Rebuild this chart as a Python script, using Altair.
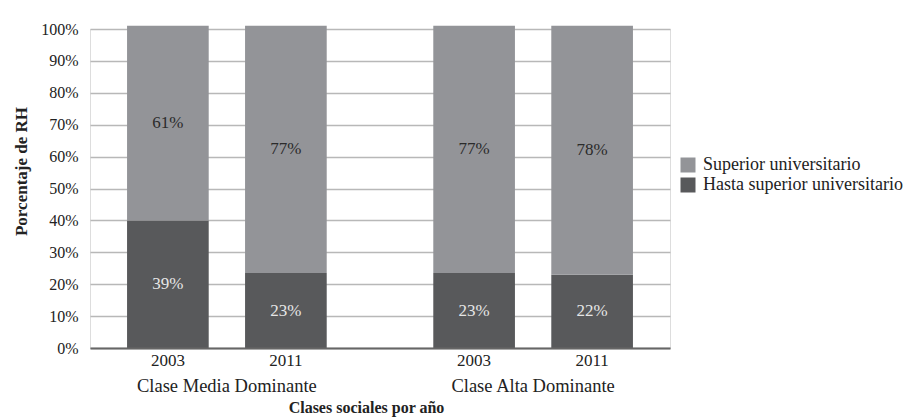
import altair as alt
import pandas as pd

groups = ["Clase Media Dominante", "Clase Media Dominante", "Clase Alta Dominante", "Clase Alta Dominante"]
years = ["2003", "2011", "2003", "2011"]
hasta = [40.0, 23.5, 23.5, 23.0]
superior = [61.0, 77.5, 77.5, 78.0]
hasta_labels = ["39%", "23%", "23%", "22%"]
superior_labels = ["61%", "77%", "77%", "78%"]

series = ["Superior universitario", "Hasta superior universitario"]
group_order = ["Clase Media Dominante", "Clase Alta Dominante"]

rows = []
for g, yv, h, s, hl, sl in zip(groups, years, hasta, superior, hasta_labels, superior_labels):
    rows.append({"group": g, "year": yv, "serie": series[1], "value": h, "label": hl, "ord": 0})
    rows.append({"group": g, "year": yv, "serie": series[0], "value": s, "label": sl, "ord": 1})
df = pd.DataFrame(rows)

FONT = "Liberation Serif"
W, H = 580, 319

x_axis = alt.Axis(title="Clases sociales por año", labelAngle=0, ticks=False,
                  labelPadding=28, labelFontSize=18.5, labelFont=FONT, labelColor="#222",
                  labelLimit=0,
                  titleFont=FONT, titleFontSize=16, titleFontWeight="bold", titleColor="#222",
                  titlePadding=5, titleX=276, domainColor="#666", domainWidth=2, zindex=1)
x_scale = alt.Scale(paddingInner=0.348, paddingOuter=0.121)
xo_scale = alt.Scale(paddingInner=0.308, paddingOuter=0)

y_axis = alt.Axis(title="Porcentaje de RH", values=list(range(0, 101, 10)),
                  labelExpr="datum.value + '%'", domain=False, ticks=False,
                  labelOverlap=False,
                  labelPadding=12, labelFontSize=16, labelFont=FONT, labelColor="#222",
                  gridColor="#b8b8b8", gridWidth=1.5,
                  titleFont=FONT, titleFontSize=17, titleFontWeight="bold", titleColor="#222",
                  titlePadding=10, titleY=142)
y_scale = alt.Scale(domain=[0, 100], nice=False)

base = alt.Chart(df)

bars = base.mark_bar().encode(
    x=alt.X("group:N", sort=group_order, scale=x_scale, axis=x_axis),
    xOffset=alt.XOffset("year:N", scale=xo_scale),
    y=alt.Y("value:Q", stack="zero", scale=y_scale, axis=y_axis),
    color=alt.Color("serie:N", scale=alt.Scale(domain=series, range=["#939498", "#58595b"]),
                    legend=alt.Legend(title=None, orient="none", legendX=589, legendY=127,
                                      symbolType="square", symbolSize=225, symbolStrokeWidth=0,
                                      symbolOpacity=1, labelFontSize=18, labelFont=FONT,
                                      labelColor="#222", rowPadding=2, labelOffset=6, labelLimit=0)),
    order=alt.Order("ord:Q"),
)

labels = base.transform_stack(
    stack="value", as_=["y0", "y1"], groupby=["group", "year"], sort=[alt.SortField("ord")]
).transform_calculate(
    mid="(datum.y0 + datum.y1) / 2"
).mark_text(font=FONT, fontSize=17, baseline="middle").encode(
    x=alt.X("group:N", sort=group_order, scale=x_scale, axis=x_axis),
    xOffset=alt.XOffset("year:N", scale=xo_scale),
    y=alt.Y("mid:Q", scale=y_scale, axis=y_axis),
    text="label:N",
    color=alt.Color("serie:N", scale=alt.Scale(domain=series, range=["#2b2b2b", "#e6e6e6"]), legend=None),
)

year_text = base.transform_filter(alt.datum.ord == 0).mark_text(
    font=FONT, fontSize=17, baseline="middle", color="#222"
).encode(
    x=alt.X("group:N", sort=group_order, scale=x_scale, axis=x_axis),
    xOffset=alt.XOffset("year:N", scale=xo_scale),
    y=alt.value(H + 13),
    text="year:N",
)

chart = alt.layer(bars, labels, year_text).resolve_scale(color="independent").properties(
    width=W, height=H,
    autosize=alt.AutoSizeParams(type="none"),
    padding={"left": 90, "top": 29, "right": 248, "bottom": 70},
).configure_view(stroke=None).configure(background="white")

chart.save("out.html", embed_options={"renderer": "svg", "actions": False})
